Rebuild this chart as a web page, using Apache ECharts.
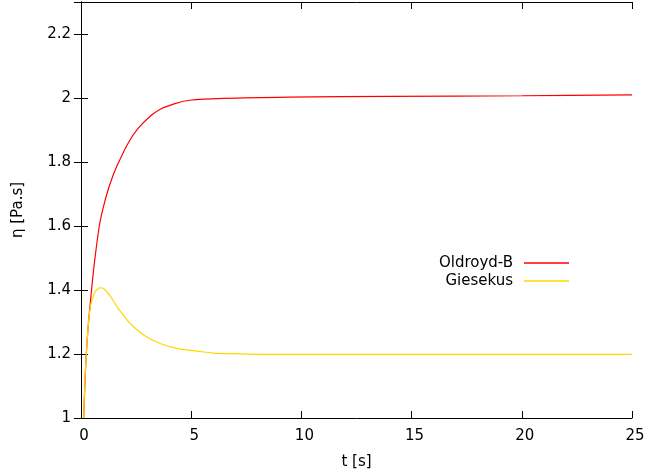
<!DOCTYPE html>
<html>
<head>
<meta charset="utf-8">
<script src="https://cdn.jsdelivr.net/npm/echarts@6/dist/echarts.min.js"></script>
<style>html,body{margin:0;padding:0;background:#fff;overflow:hidden}#c{width:647px;height:474px}</style>
</head>
<body>
<div id="c"></div>
<script>
const seriesNames = ['Oldroyd-B', 'Giesekus'];
const tOldroyd = [0.12, 0.18, 0.24, 0.33, 0.45, 0.6, 0.83, 1.0, 1.22, 1.45, 1.68, 2.13, 2.58, 3.19, 3.6, 4.3, 4.93, 6.43, 9.45, 14, 20, 25];
const etaOldroyd = [1.0, 1.11, 1.2, 1.29, 1.38, 1.48, 1.6, 1.655, 1.711, 1.757, 1.795, 1.858, 1.904, 1.946, 1.965, 1.983, 1.993, 1.999, 2.003, 2.005, 2.007, 2.01];
const tGiesekus = [0.12, 0.18, 0.24, 0.35, 0.45, 0.61, 0.75, 0.91, 1.1, 1.36, 1.66, 2.11, 2.26, 2.87, 3.62, 4.38, 5.29, 5.98, 7, 9, 15, 25];
const etaGiesekus = [1.0, 1.12, 1.2, 1.305, 1.357, 1.39, 1.403, 1.407, 1.4, 1.378, 1.345, 1.305, 1.293, 1.258, 1.232, 1.217, 1.209, 1.203, 1.201, 1.199, 1.199, 1.199];
const xTicks = [0, 5, 10, 15, 20, 25];
const yTicks = [1, 1.2, 1.4, 1.6, 1.8, 2, 2.2];

const font = 'DejaVu Sans';
const pair = (xs, ys) => xs.map((x, i) => [x, ys[i]]);
const axisCommon = {
  axisLine: { show: true, lineStyle: { color: '#000', width: 1 } },
  axisTick: { show: true, inside: true, length: 7, lineStyle: { color: '#000', width: 1 } },
  splitLine: { show: false }
};
const chart = echarts.init(document.getElementById('c'), null, { renderer: 'canvas' });
chart.setOption({
  animation: false,
  backgroundColor: '#fff',
  grid: { left: 81, right: 15, top: 2, bottom: 56, containLabel: false, outerBoundsMode: 'none' },
  legend: {
    orient: 'vertical', right: 78, top: 254, align: 'right', itemGap: 0,
    itemWidth: 45, itemHeight: 1.5, icon: 'rect', padding: 0,
    textStyle: { fontFamily: font, fontSize: 15, color: '#000', lineHeight: 18, padding: [0, 6, 0, 0] },
    data: seriesNames
  },
  xAxis: [
    Object.assign({}, axisCommon, {
      type: 'value', position: 'bottom', min: xTicks[0], max: xTicks[xTicks.length - 1], interval: 5,
      name: 't [s]', nameLocation: 'middle', nameGap: 37,
      nameTextStyle: { fontFamily: font, fontSize: 15, color: '#000' },
      axisLabel: { fontFamily: font, fontSize: 15, color: '#000', margin: 11, padding: [0, 0, 0, 6] }
    }),
    Object.assign({}, axisCommon, {
      type: 'value', position: 'top', min: xTicks[0], max: xTicks[xTicks.length - 1], interval: 5,
      axisLabel: { show: false }
    })
  ],
  yAxis: [
    Object.assign({}, axisCommon, {
      type: 'value', position: 'left', min: 1, max: 2.3, interval: 0.2,
      name: 'η [Pa.s]', nameLocation: 'middle', nameGap: 55, nameRotate: 90,
      nameTextStyle: { fontFamily: font, fontSize: 15, color: '#000' },
      axisLabel: { fontFamily: font, fontSize: 15, color: '#000', margin: 10, showMaxLabel: false,
        formatter: v => (yTicks.some(t => Math.abs(t - v) < 1e-6) ? String(Math.round(v * 10) / 10) : '') }
    }),
    Object.assign({}, axisCommon, {
      type: 'value', position: 'right', min: 1, max: 2.3, interval: 0.2,
      axisLabel: { show: false }
    })
  ],
  series: [
    { name: seriesNames[0], type: 'line', data: pair(tOldroyd, etaOldroyd), showSymbol: false, smooth: 0.3,
      lineStyle: { color: '#ff0000', width: 1.2 }, itemStyle: { color: '#ff0000' }, xAxisIndex: 0, yAxisIndex: 0 },
    { name: seriesNames[1], type: 'line', data: pair(tGiesekus, etaGiesekus), showSymbol: false, smooth: 0.3,
      lineStyle: { color: '#ffd700', width: 1.2 }, itemStyle: { color: '#ffd700' }, xAxisIndex: 0, yAxisIndex: 0 }
  ]
});
</script>
</body>
</html>
